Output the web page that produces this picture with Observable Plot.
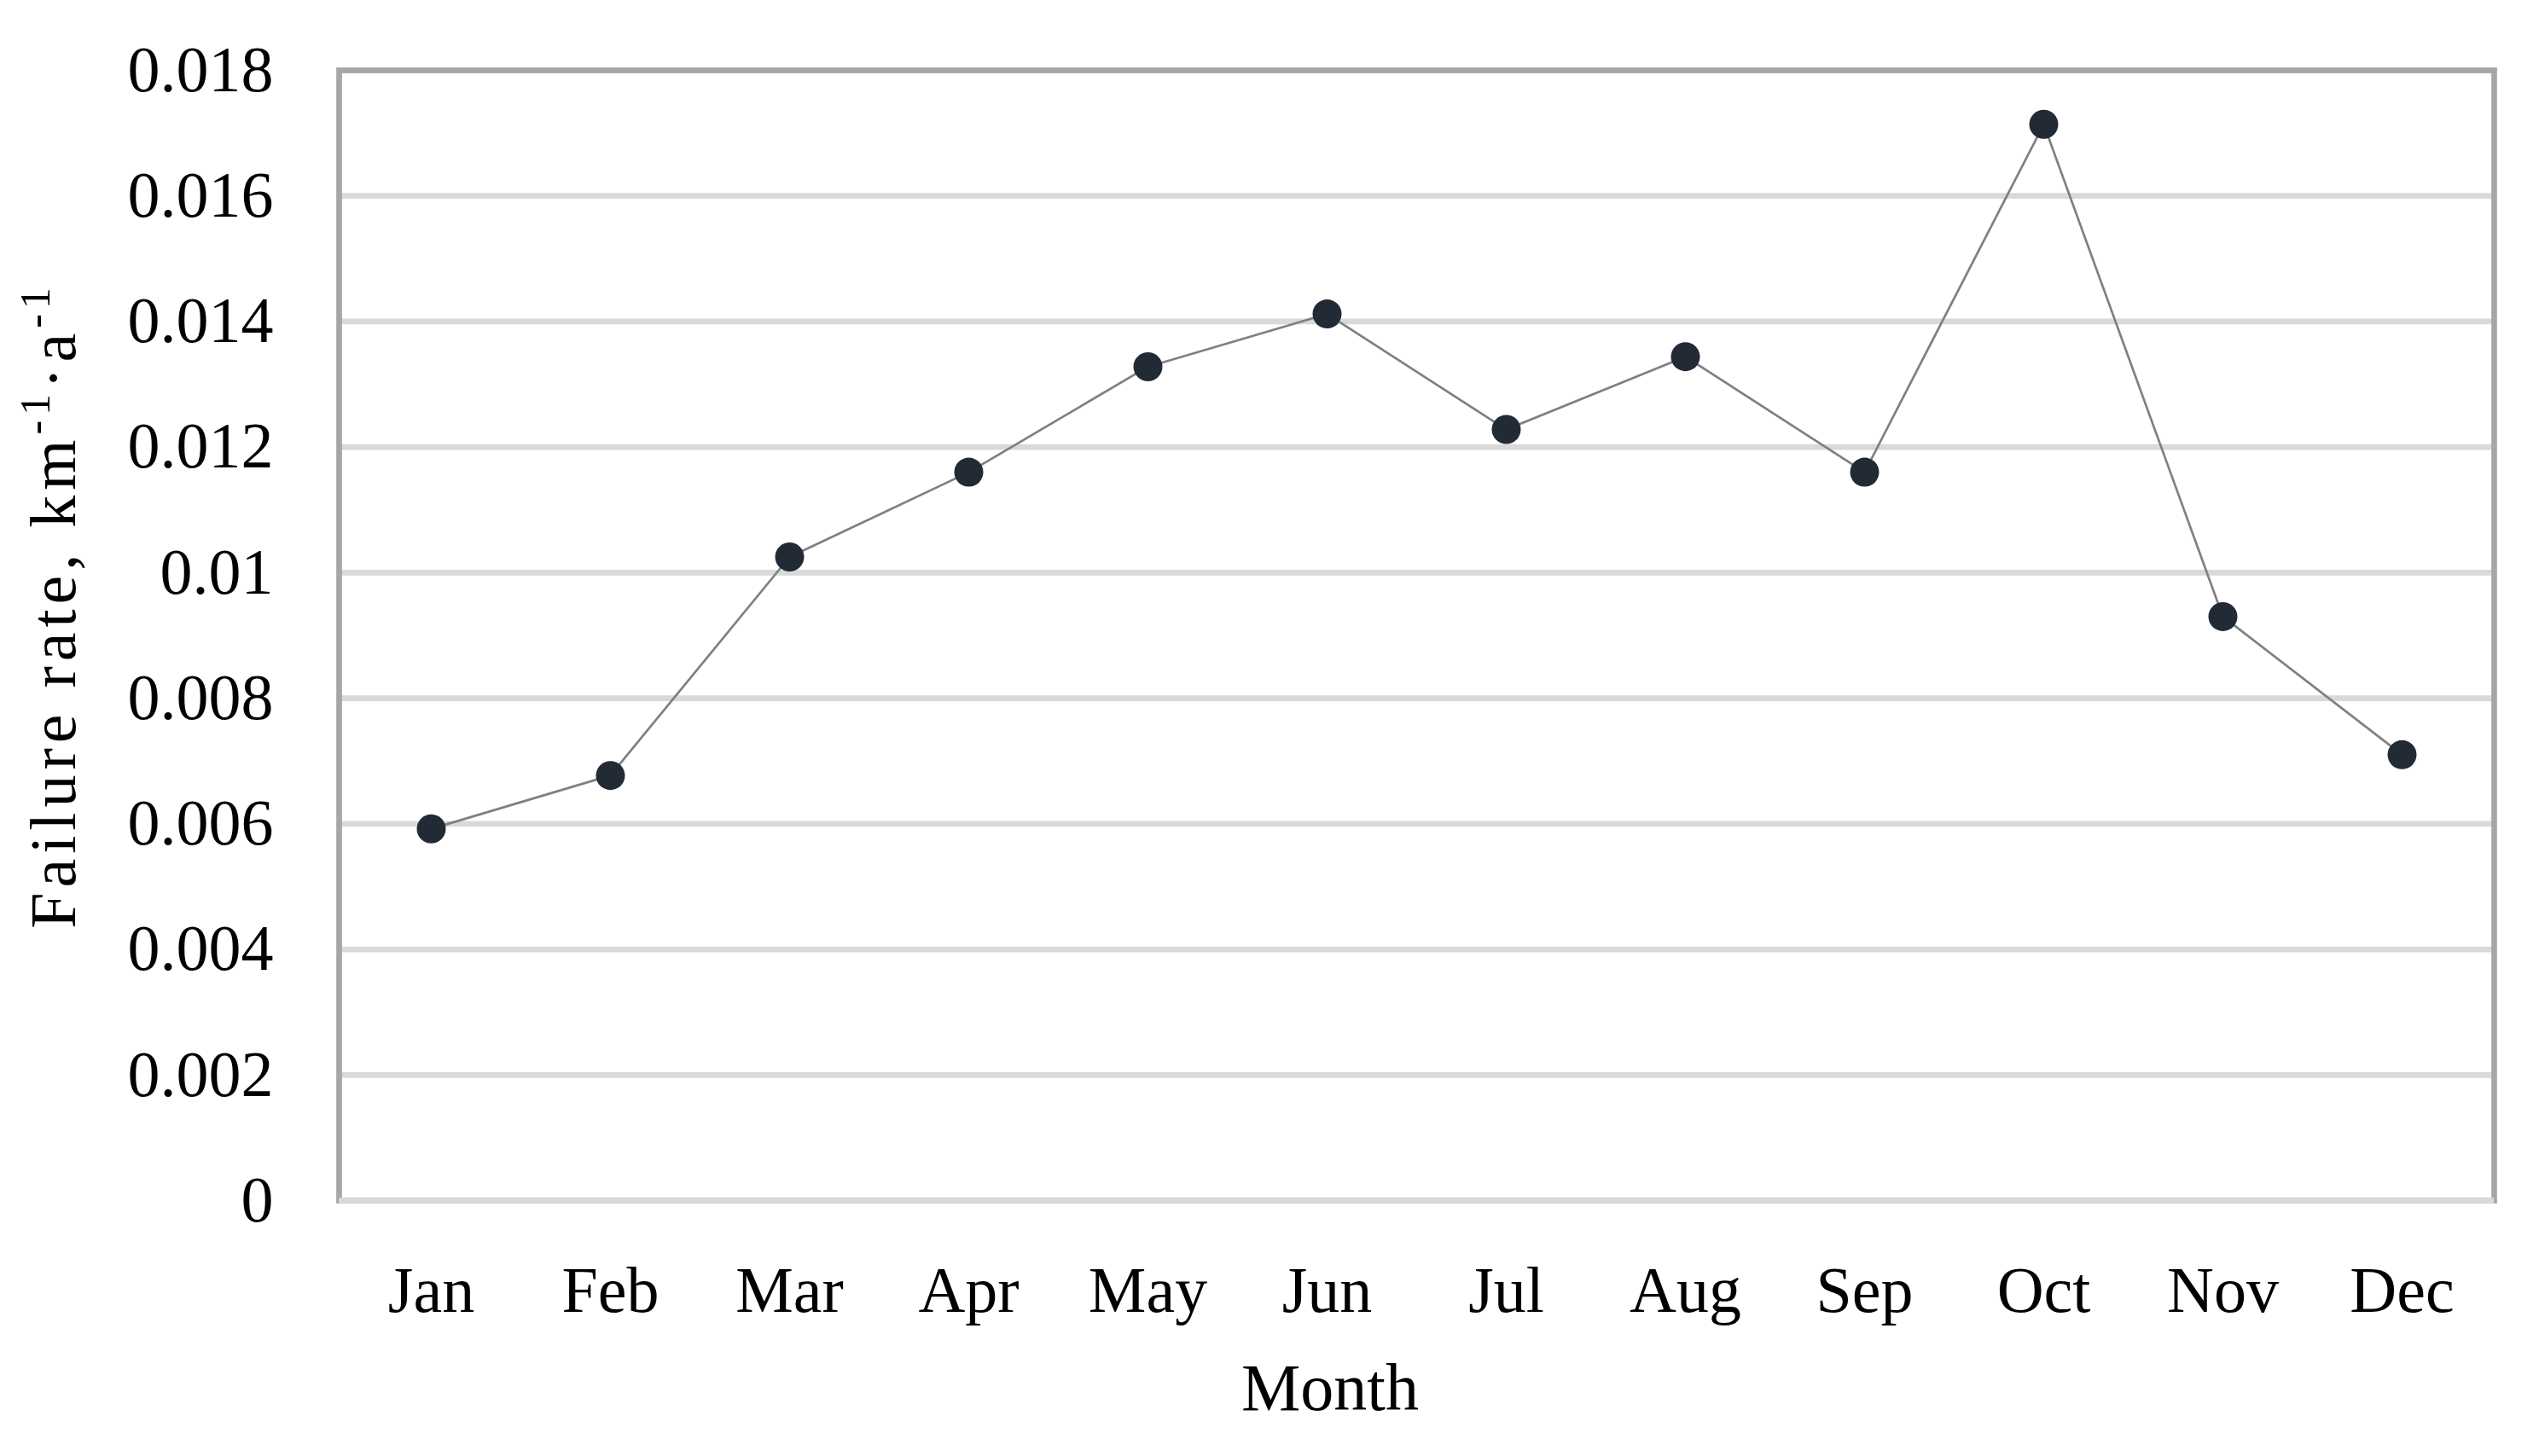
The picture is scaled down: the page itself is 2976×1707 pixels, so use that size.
<!DOCTYPE html>
<html><head><meta charset="utf-8">
<script src="https://cdn.jsdelivr.net/npm/d3@7"></script>
<script src="https://cdn.jsdelivr.net/npm/@observablehq/plot@0.6"></script>
<style>html,body{margin:0;padding:0;background:#fff;}</style>
</head><body><div id="chart"></div>
<script>
const months = ["Jan","Feb","Mar","Apr","May","Jun","Jul","Aug","Sep","Oct","Nov","Dec"];
const failureRate = [0.00592, 0.00677, 0.01025, 0.01160, 0.01328, 0.01412, 0.01228, 0.01344, 0.01160, 0.01714, 0.00930, 0.00710];
const yTicks = [0, 0.002, 0.004, 0.006, 0.008, 0.01, 0.012, 0.014, 0.016, 0.018];
const yTickLabels = ["0","0.002","0.004","0.006","0.008","0.01","0.012","0.014","0.016","0.018"];
const xTitle = "Month";

const data = months.map((m, i) => ({month: m, rate: failureRate[i]}));
const FONT = "'Liberation Serif', 'Times New Roman', serif";

const chart = Plot.plot({
  width: 2976, height: 1707,
  marginLeft: 397, marginRight: 53, marginTop: 82, marginBottom: 300,
  style: {fontFamily: FONT, fontSize: "76px", background: "#fff", color: "#000"},
  x: {type: "point", domain: months, padding: 0.5},
  y: {domain: [0, 0.018]},
  marks: [
    Plot.ruleY(yTicks, {stroke: "#d9d9d9", strokeWidth: 6.7}),
    Plot.frame({stroke: "#a6a6a6", strokeWidth: 6.7}),
    Plot.ruleY([0], {stroke: "#d9d9d9", strokeWidth: 6.7}),
    Plot.axisY({ticks: yTicks, tickFormat: d => yTickLabels[yTicks.indexOf(d)], tickSize: 0, tickPadding: 77, label: null, fontSize: 76}),
    Plot.axisX({tickSize: 0, tickPadding: 77, label: null, fontSize: 76}),
    Plot.line(data, {x: "month", y: "rate", stroke: "#808080", strokeWidth: 2.7}),
    Plot.dot(data, {x: "month", y: "rate", r: 17, fill: "#222a35"})
  ]
});
document.getElementById("chart").appendChild(chart);

const svg = d3.select(chart);
const yl = svg.append("text")
  .attr("transform", "translate(88,710) rotate(-90)")
  .attr("text-anchor", "middle")
  .attr("fill", "#000")
  .style("font-family", FONT)
  .style("font-size", "76px")
  .style("letter-spacing", "6px");
yl.append("tspan").text("Failure rate, km");
yl.append("tspan").attr("dy", -30).style("font-size", "50px").text("-1");
yl.append("tspan").attr("dy", 30).text("·a");
yl.append("tspan").attr("dy", -30).style("font-size", "50px").text("-1");

svg.append("text")
  .attr("x", 1559).attr("y", 1653)
  .attr("text-anchor", "middle")
  .attr("fill", "#000")
  .style("font-family", FONT)
  .style("font-size", "78px")
  .text(xTitle);
</script>
</body></html>
